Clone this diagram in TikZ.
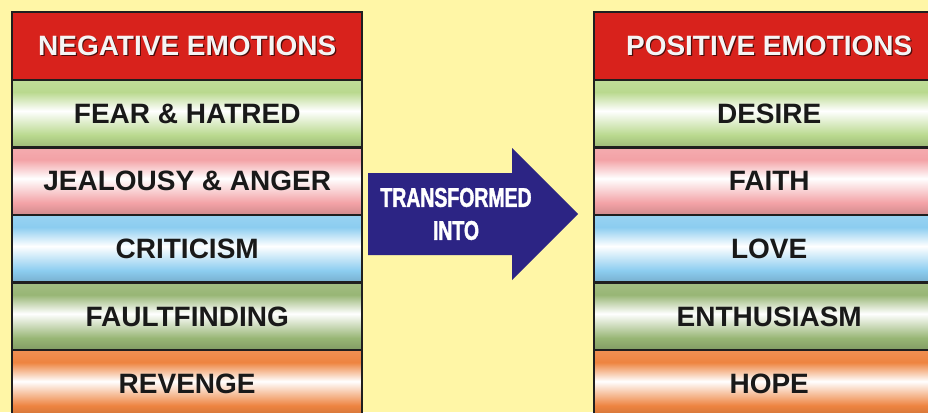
\documentclass[tikz,border=0pt]{standalone}
\usepackage{fontspec}
\setmainfont{Liberation Sans}
\newfontfamily\arrowfont{Liberation Sans}[FakeStretch=0.72, BoldFeatures={FakeBold=1.5}]
\definecolor{bgyellow}{HTML}{FFF6A6}
\definecolor{hdrred}{HTML}{D8221C}
\definecolor{cgreen}{HTML}{B9D98E}
\definecolor{cpink}{HTML}{F3A2A6}
\definecolor{cblue}{HTML}{8CCDF0}
\definecolor{colive}{HTML}{98B675}
\definecolor{corange}{HTML}{EE8440}
\definecolor{arrowblue}{HTML}{2C2484}
\colorlet{bandc}{cgreen}
\pgfdeclareverticalshading[bandc]{bandshade}{100bp}{%
  color(0bp)=(bandc!85!black); color(25bp)=(bandc!85!black);
  color(34bp)=(bandc); color(52bp)=(white); color(66bp)=(bandc);
  color(75bp)=(bandc!90); color(100bp)=(bandc!90)}
\begin{document}
\begin{tikzpicture}[x=1pt,y=-1pt,
  cell/.style={draw=black!88, line width=2.4pt, minimum width=350pt, minimum height=67.6pt,
    inner sep=0pt, anchor=north west, text=black!90,
    font=\fontsize{28}{30}\selectfont\bfseries},
  hdr/.style={cell, fill=hdrred, text=white!96!black},
  hdrshadow/.style={text=hdrred!35!black, font=\fontsize{28}{30}\selectfont\bfseries, inner sep=0pt},
  band/.style={cell, /utils/exec={\colorlet{bandc}{#1}}, shade, shading=bandshade},
  arrowtext/.style={text=white, align=center, font=\fontsize{27}{33}\selectfont\arrowfont\bfseries}
]
\useasboundingbox (0,0) rectangle (928,412);
\clip (0,0) rectangle (928,412);
\fill[bgyellow] (0,0) rectangle (928,412);

% left column
\node[hdr] (lh) at (11,11) {};
\node[hdrshadow] (lhs) at ([shift={(1.2pt,-1.2pt)}]lh.center) {NEGATIVE EMOTIONS};
\node[hdrshadow, text=white!96!black] (lht) at (lh.center) {NEGATIVE EMOTIONS};
\node[band=cgreen]  (l1) at (11,78.6)  {FEAR \& HATRED};
\node[band=cpink]   (l2) at (11,146.2) {JEALOUSY \& ANGER};
\node[band=cblue]   (l3) at (11,213.8) {CRITICISM};
\node[band=colive]  (l4) at (11,281.4) {FAULTFINDING};
\node[band=corange] (l5) at (11,349)   {REVENGE};

% right column
\node[hdr] (rh) at (593,11) {};
\node[hdrshadow] (rhs) at ([shift={(1.2pt,-1.2pt)}]rh.center) {POSITIVE EMOTIONS};
\node[hdrshadow, text=white!96!black] (rht) at (rh.center) {POSITIVE EMOTIONS};
\node[band=cgreen]  (r1) at (593,78.6)  {DESIRE};
\node[band=cpink]   (r2) at (593,146.2) {FAITH};
\node[band=cblue]   (r3) at (593,213.8) {LOVE};
\node[band=colive]  (r4) at (593,281.4) {ENTHUSIASM};
\node[band=corange] (r5) at (593,349)   {HOPE};

% arrow
\fill[arrowblue] (368,173) -- (512,173) -- (512,148) -- (578,214) -- (512,280) -- (512,255) -- (368,255) -- cycle;
\node[arrowtext] (tr) at (456,214) {TRANSFORMED\\INTO};
\end{tikzpicture}
\end{document}
